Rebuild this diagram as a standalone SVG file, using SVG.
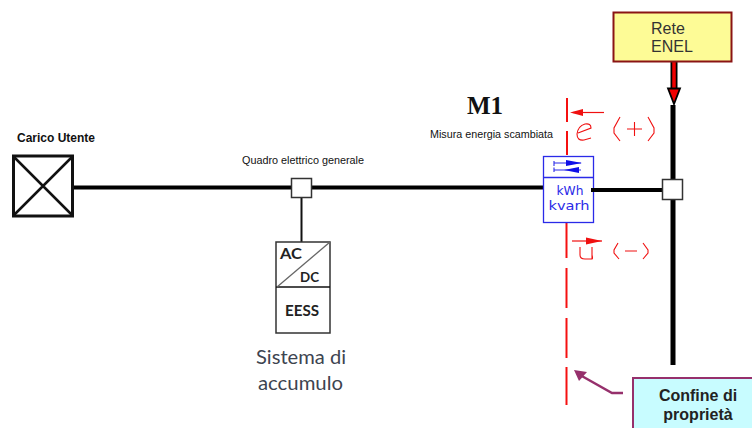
<svg xmlns="http://www.w3.org/2000/svg" width="752" height="428" viewBox="0 0 752 428">
<style>
.s{font-family:"Liberation Sans",Arial,sans-serif}
.c{font-family:Lato,"Open Sans",sans-serif}
.r{fill:none;stroke:#f01010;stroke-width:1.100}
.m{fill:none;stroke:#2a2ae8;stroke-width:1.100}
</style>
<rect width="752" height="428" fill="#fff"/>
<g id="connectors" fill="none">
<path d="M73 187.500H291M312 187.500H544" stroke="#000" stroke-width="4"/>
<path d="M673 105V179M673 200V365" stroke="#000" stroke-width="5"/>
<path d="M301.500 198V242" stroke="#111" stroke-width="2"/>
<path d="M674 62V92" stroke="#000" stroke-width="7"/>
<path d="M674 62V92" stroke="#f00000" stroke-width="3.500"/>
<path d="M668 88.500H680L674 104Z" fill="#f00000" stroke="#000" stroke-width="1.800"/>
<path d="M567 98V122M567 131V155M566.500 222V258M566.500 268V308M566.500 318V358M566.500 367V405" stroke="#f51010" stroke-width="2"/>
<path d="M623 393H612L580 375" stroke="#96306c" stroke-width="2.500"/>
<path d="M574 370L587 372L579 381Z" fill="#96306c"/>
</g>
<g id="carico">
<rect x="13.500" y="156" width="59" height="60" fill="#fff" stroke="#111" stroke-width="3"/>
<path d="M14 157L72 215M72 157L14 215" stroke="#111" stroke-width="2.500"/>
<text class="s" x="17" y="142" font-size="12" font-weight="700" textLength="78" lengthAdjust="spacingAndGlyphs" fill="#111">Carico Utente</text>
</g>
<g id="quadro">
<rect x="291.500" y="178.500" width="20" height="19" fill="#fff" stroke="#333" stroke-width="1.500"/>
<text class="s" x="242" y="164" font-size="10.500" textLength="122" lengthAdjust="spacingAndGlyphs" fill="#111">Quadro elettrico generale</text>
</g>
<g id="eess">
<rect x="276" y="242" width="54" height="91" fill="#fff" stroke="#333" stroke-width="1.500"/>
<path d="M276 287H330" stroke="#111" stroke-width="1.500"/>
<path d="M277 287L330 242" stroke="#666" stroke-width="1.300"/>
<text class="c" x="280" y="259" font-size="16" font-weight="700" fill="#222" textLength="22" lengthAdjust="spacingAndGlyphs">AC</text>
<text class="c" x="300" y="282" font-size="14" font-weight="700" fill="#222" textLength="19" lengthAdjust="spacingAndGlyphs">DC</text>
<text class="c" x="285" y="316" font-size="15" font-weight="700" fill="#222" textLength="34" lengthAdjust="spacingAndGlyphs">EESS</text>
<text class="c" x="256" y="364" font-size="19" fill="#3d4450" textLength="90" lengthAdjust="spacingAndGlyphs">Sistema di</text>
<text class="c" x="258" y="390" font-size="19" fill="#3d4450" textLength="85" lengthAdjust="spacingAndGlyphs">accumulo</text>
</g>
<g id="m1">
<text x="485" y="114" font-family="Liberation Serif,serif" font-size="25" font-weight="700" text-anchor="middle" fill="#111">M1</text>
<text class="s" x="430" y="138" font-size="10.500" textLength="123" lengthAdjust="spacingAndGlyphs" fill="#111">Misura energia scambiata</text>
</g>
<g id="meter">
<rect x="543.500" y="156.500" width="50" height="66" fill="#fff" stroke="#2a2ae8" stroke-width="1.300"/>
<path d="M544 177.500H593" stroke="#2a2ae8" stroke-width="1.300"/>
<path class="m" d="M554 161V166M554 163H581M554 167.500V172M554 170H581"/>
<path d="M566 160L582 163L566 166ZM579 167L564 170L579 173Z" fill="#1010e8"/>
<text x="570" y="195" font-family="DejaVu Sans,sans-serif" font-size="13" fill="#2a2ae8" text-anchor="middle" textLength="27" lengthAdjust="spacingAndGlyphs">kWh</text>
<text x="569" y="210" font-family="DejaVu Sans,sans-serif" font-size="13" fill="#2a2ae8" text-anchor="middle" textLength="41" lengthAdjust="spacingAndGlyphs">kvarh</text>
</g>
<path d="M591 190H662" stroke="#000" stroke-width="4"/>
<g id="junction-enel">
<rect x="662.500" y="179.500" width="20" height="20" fill="#fff" stroke="#333" stroke-width="1.500"/>
</g>
<g id="rete">
<rect x="613.500" y="12.500" width="118" height="49" fill="#fdfb96" stroke="#8a1414" stroke-width="2"/>
<text class="s" x="651" y="34" font-size="16" fill="#333">Rete</text>
<text class="s" x="651" y="52" font-size="16" fill="#333">ENEL</text>
</g>
<g id="label-e">
<path d="M573 112.500H604" stroke="#f01010" stroke-width="1.200"/>
<path d="M570 112.500L583 109V116Z" fill="#f01010"/>
<path class="r" d="M578 133L591 128Q591 123 585 124Q578 126 577 134Q577 141 584 140L591 138"/>
<path class="r" d="M620 117L614 128V133L620 141M648 117L654 128V133L648 141M627 129H642M634.500 122V136"/>
</g>
<g id="label-u">
<path d="M572 241H602" stroke="#f01010" stroke-width="1.200"/>
<path d="M586 237.500L602 241L586 244.500Z" fill="#f01010"/>
<path class="r" d="M580 247V255Q580 259 585 259H592Q593 259 592 255V247M592 255V259"/>
<path class="r" d="M618 243L614 250V253L619 259M643 243L648 250V253L643 259M625 251H637"/>
</g>
<g id="confine">
<rect x="633" y="378" width="125" height="60" fill="#c8fcff" stroke="#96306c" stroke-width="2"/>
<text class="s" x="698" y="401" font-size="16" font-weight="700" text-anchor="middle" fill="#222">Confine di</text>
<text class="s" x="698" y="420" font-size="16" font-weight="700" text-anchor="middle" fill="#222">proprietà</text>
</g>
</svg>
